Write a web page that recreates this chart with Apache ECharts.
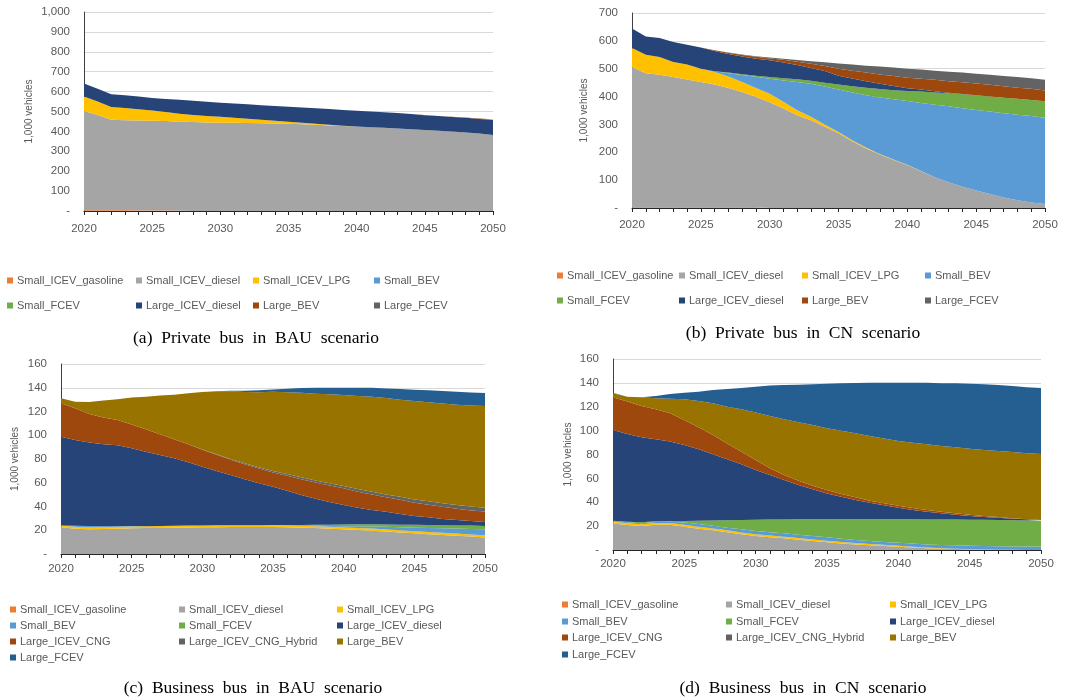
<!DOCTYPE html>
<html>
<head>
<meta charset="utf-8">
<script src="https://cdn.jsdelivr.net/npm/echarts@6/dist/echarts.min.js"></script>
<style>
html,body{margin:0;padding:0;background:#fff;}
#c{width:1066px;height:698px;}
</style>
</head>
<body>
<div id="c"></div>
<script>
// ---------- categories ----------
const years = ['2020','2021','2022','2023','2024','2025','2026','2027','2028','2029','2030',
  '2031','2032','2033','2034','2035','2036','2037','2038','2039','2040',
  '2041','2042','2043','2044','2045','2046','2047','2048','2049','2050'];

const namesPrivate = ['Small_ICEV_gasoline','Small_ICEV_diesel','Small_ICEV_LPG','Small_BEV','Small_FCEV','Large_ICEV_diesel','Large_BEV','Large_FCEV'];
const namesBusiness = ['Small_ICEV_gasoline','Small_ICEV_diesel','Small_ICEV_LPG','Small_BEV','Small_FCEV','Large_ICEV_diesel','Large_ICEV_CNG','Large_ICEV_CNG_Hybrid','Large_BEV','Large_FCEV'];

const captions = ['(a)  Private  bus  in  BAU  scenario','(b)  Private  bus  in  CN  scenario','(c)  Business  bus  in  BAU  scenario','(d)  Business  bus  in  CN  scenario'];

// ---------- (a) Private bus, BAU ----------
const a_gasoline = [4,4,4,4,3,3,2,1,0,0,0,0,0,0,0,0,0,0,0,0,0,0,0,0,0,0,0,0,0,0,0];
const a_diesel   = [499,478,454,452,452,451,450,448,447,445,444,443,442,441,440,439,436,433,430,427,424,421,418,415,411,407,403,399,394,389,382];
const a_lpg      = [72,68,64,61,56,51,46,40,36,33,30,26,22,18,14,10,7,5,3,2,1,0,0,0,0,0,0,0,0,0,0];
const a_sbev     = [0,0,0,0,0,0,0,0,0,0,0,0,0,0,0,0,0,0,0,0,0,0,0,0,0,0,0,0,0,0,0];
const a_sfcev    = [0,0,0,0,0,0,0,0,0,0,0,0,0,0,0,0,0,0,0,0,0,0,0,0,0,0,0,0,0,0,0];
const a_ldiesel  = [66,64,65,65,64,63,65,70,71,71,70,71,72,73,74,75,77,78,79,79,79,79,78,77,76,74,74,73,74,73,76];
const a_lbev     = [0,0,0,0,0,0,0,0,0,0,0,0,0,0,0,0,0,0,0,0,0,0,0,0,0,1,1,2,2,3,3];
const a_lfcev    = [0,0,0,0,0,0,0,0,0,0,0,0,0,0,0,0,0,0,0,0,0,0,0,0,0,0,0,0,0,0,0];

// ---------- (b) Private bus, CN ----------
const b_gasoline = [3,3,3,3,3,3,3,3,3,3,0,0,0,0,0,0,0,0,0,0,0,0,0,0,0,0,0,0,0,0,0];
const b_diesel   = [503,481,475,467,458,449,440,428,413,396,380,357,333,315,292,268,240,214,192,172,154,132,110,92,76,63,50,38,28,20,14];
const b_lpg      = [68,66,64,54,54,48,45,41,36,32,30,24,18,13,8,5,3,3,2,2,1,1,0,0,0,0,0,0,0,0,0];
const b_sbev     = [0,0,0,0,0,0,3,12,25,40,54,77,101,118,136,152,172,188,203,216,229,244,261,273,282,289,296,302,307,310,310];
const b_sfcev    = [0,0,0,0,0,0,0,2,3,4,6,8,10,11,14,18,22,27,30,33,36,41,44,47,50,52,54,56,57,58,59];
const b_ldiesel  = [70,66,68,72,71,76,73,67,64,61,60,56,51,46,42,32,28,23,19,15,10,7,4,2,1,1,0,0,0,0,0];
const b_lbev     = [0,0,0,0,0,0,2,4,5,7,7,10,12,15,18,25,28,31,33,36,38,39,41,41,42,42,42,41,40,40,39];
const b_lfcev    = [0,0,0,0,0,0,0,1,2,2,3,4,6,9,13,19,22,25,29,30,32,33,33,34,35,35,36,37,38,38,38];

// ---------- (c) Business bus, BAU ----------
const c_gasoline = [0,0,0,0,0,0,0,0,0,0,0,0,0,0,0,0,0,0,0,0,0,0,0,0,0,0,0,0,0,0,0];
const c_diesel   = [22.5,21.3,20.8,21,21.3,21.6,21.8,22,22.2,22.4,22.5,22.6,22.7,22.7,22.7,22.7,22.5,22.2,21.8,21.3,20.8,20.2,19.6,18.9,18.1,17.4,16.7,16,15.4,14.7,14];
const c_lpg      = [1.6,1.6,1.6,1.6,1.6,1.6,1.6,1.6,1.6,1.6,1.6,1.6,1.6,1.6,1.6,1.6,1.6,1.6,1.6,1.6,1.6,1.8,1.8,1.8,1.8,1.8,1.8,1.8,1.8,1.8,1.8];
const c_sbev     = [0,0.8,1.2,0.8,0.5,0.3,0,0,0,0,0,0,0,0,0,0,0,0,0.3,0.6,1,1.4,1.8,2.2,2.6,3,3.4,3.8,4.2,4.6,5];
const c_sfcev    = [0,0,0,0,0,0,0,0,0,0,0,0,0,0,0,0.2,0.4,0.6,0.9,1.1,1.4,1.6,1.8,2,2.2,2.4,2.5,2.6,2.7,2.8,2.8];
const c_ldiesel  = [74.7,72.3,70.2,69.0,68.1,65.5,62.8,59.8,56.8,53.2,49.4,45.7,42.2,38.6,35.2,32.2,28.8,25.3,22.0,19.2,16.5,14.0,12.0,10.7,9.0,7.4,6.5,5.3,4.5,3.9,3.4];
const c_lcng     = [28.2,26.7,24.2,22.6,21.3,20,18.8,17.4,16,15.2,14.2,13.6,12.8,12.6,12.4,12.0,12.6,13.3,13.6,13.8,14,13.5,13.2,12.1,12,11.2,10.6,10.2,9.6,8.9,8.7];
const c_lhybrid  = [0,0,0,0,0,0,0,0,0,0,0.3,0.5,0.7,0.9,1.1,1.3,1.5,1.6,1.8,1.9,2.0,2.2,2.3,2.5,2.6,2.8,2.9,3.0,3.1,3.2,3.3];
const c_lbev     = [4.1,5.6,10,14.2,17.5,22.7,27.5,32.6,37.6,42.9,48.4,53,57,60.1,63.3,66.6,68.8,71.1,73,75,76.7,78.3,80,81.2,81.6,82.8,83.4,84,84.4,85.2,85.6];
const c_lfcev    = [0,0,0,0,0,0,0,0,0,0,0,0,0.5,1,1.5,2,3,4,5,5.5,6,7,7.5,8,9,9.5,10,10.5,11,11,11];

// ---------- (d) Business bus, CN ----------
const d_gasoline = [0,0,0,0,0,0,0,0,0,0,0,0,0,0,0,0,0,0,0,0,0,0,0,0,0,0,0,0,0,0,0];
const d_diesel   = [22.3,21.0,20.1,21.2,21.2,19.5,17.9,16.5,14.8,13.2,11.7,10.7,9.8,8.6,7.5,6.4,5.5,4.7,4.0,3.4,2.8,2.1,1.4,1.0,0.8,0.6,0.4,0.3,0.2,0.1,0];
const d_lpg      = [1.5,1.5,1.5,1.5,1.5,1.6,1.6,1.6,1.7,1.5,1.4,1.4,1.4,1.4,1.4,1.4,1.3,1.2,1.0,0.9,0.8,0.7,0.6,0.4,0.3,0.2,0.1,0,0,0,0];
const d_sbev     = [0.8,0.8,0.8,0.8,1.0,2.0,2.3,2.3,2.2,2.6,2.8,2.8,2.8,2.8,2.8,2.8,2.6,2.5,2.5,2.5,2.5,2.6,2.7,2.8,2.8,2.8,2.8,2.8,2.8,2.8,2.8];
const d_sfcev    = [0,0.4,0.8,0.5,0.6,1.2,2.8,4.4,6.3,7.9,9.5,10.6,11.6,12.9,14.0,15.1,16.3,17.3,18.2,18.9,19.6,20.3,20.9,21.3,21.6,21.8,22.0,22.0,21.9,21.8,21.8];
const d_ldiesel  = [75.9,73.5,71.2,68.7,66.5,63.7,59.8,55.4,51,46.6,41.6,37.3,33,28.7,25.1,21.7,18.9,16.1,13.9,11.7,9.7,7.8,6.5,5.2,4.1,3.1,2.3,2.0,1.3,1.0,0.5];
const d_lcng     = [27.4,27.1,26.2,25.2,23.7,20.9,18.4,16.1,13.3,10.5,8.4,5.6,4.2,3.6,3.0,2.8,2.3,2.3,1.7,1.7,1.7,1.7,1.4,1.4,1.1,1.1,0.9,0.5,0.3,0,0];
const d_lhybrid  = [0,0,0,0,0,0,0,0,0,0,0,0,0,0,0,0,0,0,0,0,0,0,0,0,0,0,0,0,0,0,0];
const d_lbev     = [3.4,4.1,7.3,9.2,12.3,17.4,22.1,26.6,30.8,35.6,39.7,43.9,46.8,49,51,51.8,53.1,53.7,54.3,54.4,54.2,54.7,55,55,55.3,55.3,55.3,55.4,55.6,55.3,55.4];
const d_lfcev    = [0.5,0,0,1.9,3.8,5.5,7.7,11.1,14.7,17.8,21.7,25.4,28.6,31.5,34,37.3,39.6,42.1,44.5,46.6,48.8,50.2,51.6,52.5,53.6,54.4,55,55.2,55.3,55.3,55.2];

// ---------- styling / layout ----------
const colorsPrivate = ['#ED7D31','#A5A5A5','#FFC000','#5B9BD5','#70AD47','#264478','#9E480E','#636363'];
const colorsBusiness = ['#ED7D31','#A5A5A5','#FFC000','#5B9BD5','#70AD47','#264478','#9E480E','#636363','#997300','#255E91'];

const panels = [
  {names:namesPrivate, colors:colorsPrivate, data:[a_gasoline,a_diesel,a_lpg,a_sbev,a_sfcev,a_ldiesel,a_lbev,a_lfcev],
   grid:{left:84,top:12,width:409,height:199}, max:1000, interval:100, nameGap:50, xMargin:12,
   legX:[7,136,253,374], legY:[282,307], cap:[251,335]},
  {names:namesPrivate, colors:colorsPrivate, data:[b_gasoline,b_diesel,b_lpg,b_sbev,b_sfcev,b_ldiesel,b_lbev,b_lfcev],
   grid:{left:632,top:13,width:413,height:195}, max:700, interval:100, nameGap:43, xMargin:11,
   legX:[557,679,802,925], legY:[277,302], cap:[798,330]},
  {names:namesBusiness, colors:colorsBusiness, data:[c_gasoline,c_diesel,c_lpg,c_sbev,c_sfcev,c_ldiesel,c_lcng,c_lhybrid,c_lbev,c_lfcev],
   grid:{left:61,top:364,width:424,height:190}, max:160, interval:20, nameGap:41, xMargin:9,
   legX:[10,179,337], legY:[611,627,643,659], cap:[248,685]},
  {names:namesBusiness, colors:colorsBusiness, data:[d_gasoline,d_diesel,d_lpg,d_sbev,d_sfcev,d_ldiesel,d_lcng,d_lhybrid,d_lbev,d_lfcev],
   grid:{left:613,top:359,width:428,height:191}, max:160, interval:20, nameGap:40, xMargin:8,
   legX:[562,726,890], legY:[606,623,639,656], cap:[798,685]}
];

const FONT = 'Liberation Sans';
const grids = [], xAxes = [], yAxes = [], series = [], legends = [], titles = [];

panels.forEach((p, i) => {
  grids.push(Object.assign({containLabel:false}, p.grid));
  xAxes.push({
    type:'category', gridIndex:i, data:years, boundaryGap:false,
    axisLine:{lineStyle:{color:'#262626', width:1}},
    axisTick:{show:true, interval:0, length:4, lineStyle:{color:'#262626'}},
    axisLabel:{interval:4, color:'#595959', fontSize:11.5, fontFamily:FONT, margin:p.xMargin},
    splitLine:{show:false}
  });
  yAxes.push({
    type:'value', gridIndex:i, min:0, max:p.max, interval:p.interval,
    name:'1,000 vehicles', nameLocation:'middle', nameRotate:90, nameGap:p.nameGap,
    nameTextStyle:{color:'#595959', fontSize:10, fontFamily:FONT},
    axisLine:{show:true, lineStyle:{color:'#404040', width:1}},
    axisTick:{show:false},
    axisLabel:{color:'#595959', fontSize:11.5, fontFamily:FONT, margin:14,
      formatter: v => v === 0 ? '-' : v.toLocaleString('en-US')},
    splitLine:{show:true, lineStyle:{color:'#D9D9D9', width:1}}
  });
  p.names.forEach((nm, k) => {
    series.push({
      type:'line', name:nm, xAxisIndex:i, yAxisIndex:i, stack:'s'+i,
      data:p.data[k], symbol:'none', silent:true,
      color:p.colors[k],
      lineStyle:{width:0, color:p.colors[k]},
      areaStyle:{color:p.colors[k], opacity:1}
    });
    const cols = p.legX.length;
    const col = k % cols, row = Math.floor(k / cols);
    legends.push({
      left:p.legX[col], top:p.legY[row] - 7, padding:0, selectedMode:false,
      icon:'rect', itemWidth:6, itemHeight:6, itemGap:0,
      textStyle:{color:'#595959', fontSize:11, fontFamily:FONT, padding:[0,0,0,-1]},
      data:[{name:nm, itemStyle:{color:p.colors[k]}}]
    });
  });
  titles.push({
    text:captions[i], left:p.cap[0], top:p.cap[1] - 11, textAlign:'center',
    textStyle:{fontFamily:'Liberation Serif', fontWeight:'normal', fontSize:17.5, color:'#000'}
  });
});

const chart = echarts.init(document.getElementById('c'), null, {renderer:'canvas'});
chart.setOption({
  animation:false,
  backgroundColor:'#fff',
  title:titles,
  legend:legends,
  grid:grids, xAxis:xAxes, yAxis:yAxes, series:series
});
</script>
</body>
</html>
